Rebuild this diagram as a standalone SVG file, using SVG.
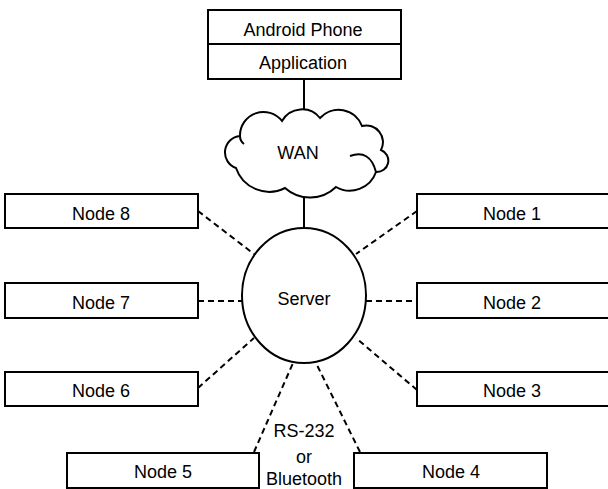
<svg xmlns="http://www.w3.org/2000/svg" width="608" height="489" viewBox="0 0 608 489">
<style>
.box{fill:#fff;stroke:#000;stroke-width:2}
.ln{fill:none;stroke:#000;stroke-width:2}
.dash{fill:none;stroke:#000;stroke-width:2;stroke-dasharray:6 4}
.t{font-family:"Liberation Sans",Arial,sans-serif;font-size:18px;fill:#000;text-anchor:middle}
</style>
<rect width="608" height="489" fill="#fff"/>
<g id="connectors">
<line class="ln" x1="304" y1="79" x2="304" y2="114"/>
<line class="ln" x1="304" y1="195" x2="304" y2="228"/>
<line class="dash" x1="198" y1="211" x2="254" y2="254"/>
<line class="dash" x1="417" y1="211" x2="356" y2="254"/>
<line class="dash" x1="198" y1="301" x2="242" y2="301"/>
<line class="dash" x1="366" y1="301" x2="417" y2="301"/>
<line class="dash" x1="198" y1="388" x2="254" y2="338"/>
<line class="dash" x1="417" y1="390" x2="356" y2="338"/>
<line class="dash" x1="254" y1="452" x2="293" y2="363"/>
<line class="dash" x1="360" y1="452" x2="316" y2="363"/>
<text class="t" x="304" y="437">RS-232</text>
<text class="t" x="304" y="463">or</text>
<text class="t" x="304" y="485">Bluetooth</text>
</g>
<g id="phone">
<rect class="box" x="208" y="10" width="193" height="69"/>
<line class="ln" x1="208" y1="44" x2="401" y2="44"/>
<text class="t" x="303" y="36">Android Phone</text>
<text class="t" x="303" y="69">Application</text>
</g>
<g id="wan">
<path class="box" d="M236,168 A16.5,16.5 0 0 1 240,136 A23.5,23.5 0 0 1 282,121 A23,23 0 0 1 320,118 A25,25 0 0 1 362,126 A16.7,16.7 0 0 1 381,150 A11.4,11.4 0 0 1 376,172 A27.8,27.8 0 0 1 336,187 A37.5,37.5 0 0 1 285,188 A35,35 0 0 1 236,168 Z"/>
<path class="ln" d="M240,136 Q240,141 244,144"/>
<path class="ln" d="M350,156 Q370,149 376,172"/>
<text class="t" x="298" y="159">WAN</text>
</g>
<g id="server">
<ellipse class="box" cx="304" cy="295.5" rx="62" ry="67.5"/>
<text class="t" x="304" y="305">Server</text>
</g>
<g id="node8"><rect class="box" x="5" y="194" width="193" height="34"/><text class="t" x="101" y="220">Node 8</text></g>
<g id="node7"><rect class="box" x="5" y="283" width="193" height="35"/><text class="t" x="101" y="309">Node 7</text></g>
<g id="node6"><rect class="box" x="5" y="372" width="193" height="34"/><text class="t" x="101" y="397">Node 6</text></g>
<g id="node1"><rect class="box" x="417" y="194" width="193" height="34"/><text class="t" x="512" y="220">Node 1</text></g>
<g id="node2"><rect class="box" x="417" y="283" width="193" height="35"/><text class="t" x="512" y="309">Node 2</text></g>
<g id="node3"><rect class="box" x="417" y="372" width="193" height="34"/><text class="t" x="512" y="397">Node 3</text></g>
<g id="node5"><rect class="box" x="67" y="453" width="192" height="35"/><text class="t" x="163" y="478">Node 5</text></g>
<g id="node4"><rect class="box" x="354" y="453" width="193" height="35"/><text class="t" x="451" y="478">Node 4</text></g>
</svg>
